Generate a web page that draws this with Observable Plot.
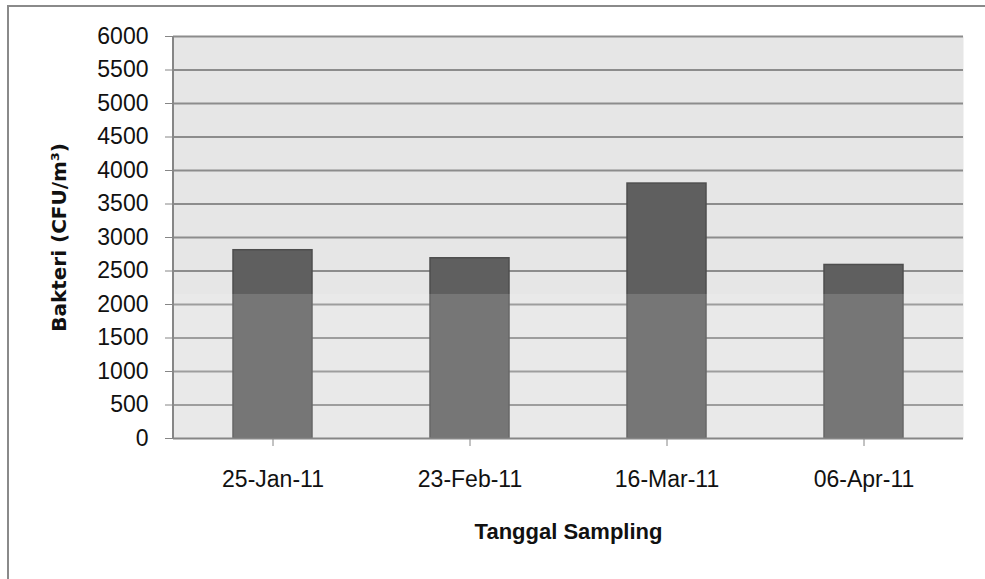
<!DOCTYPE html>
<html>
<head>
<meta charset="utf-8">
<script src="https://cdn.jsdelivr.net/npm/d3@7"></script>
<script src="https://cdn.jsdelivr.net/npm/@observablehq/plot@0.6"></script>
<style>
  html, body { margin: 0; padding: 0; background: #ffffff; width: 985px; height: 579px; overflow: hidden; }
  #wrap { position: relative; width: 985px; height: 579px; }
  #border { position: absolute; left: 7px; top: 5px; width: 2000px; height: 2000px;
            border-left: 2px solid #8a8a8a; border-top: 2px solid #8a8a8a; box-sizing: border-box; }
  #chart { position: absolute; left: 0; top: 0; }
  #chart [aria-label="y-axis tick"], #chart [aria-label="x-axis tick"] { stroke: #868686; }
  #chart text { fill: #111; }
</style>
</head>
<body>
<div id="wrap">
  <div id="border"></div>
  <div id="chart"></div>
</div>
<script>
// Data
const dates = ["25-Jan-11", "23-Feb-11", "16-Mar-11", "06-Apr-11"];
const bacteria = [2810, 2690, 3805, 2590];
const yTicks = [0, 500, 1000, 1500, 2000, 2500, 3000, 3500, 4000, 4500, 5000, 5500, 6000];
const yTitle = "Bakteri (CFU/m³)";
const xTitle = "Tanggal Sampling";
const overlayLevel = [2150]; // lighter watermark band below this level

const data = dates.map((d, i) => ({date: d, value: bacteria[i]}));

const leftAxisLine = (index, scales, values, dims) => {
  const ns = "http://www.w3.org/2000/svg";
  const l = document.createElementNS(ns, "line");
  l.setAttribute("x1", dims.marginLeft);
  l.setAttribute("x2", dims.marginLeft);
  l.setAttribute("y1", dims.marginTop);
  l.setAttribute("y2", dims.height - dims.marginBottom);
  l.setAttribute("stroke", "#868686");
  l.setAttribute("stroke-width", 2);
  return l;
};

const chart = Plot.plot({
  width: 985,
  height: 579,
  marginLeft: 173,
  marginRight: 22,
  marginTop: 36,
  marginBottom: 141,
  style: {fontFamily: "'Liberation Sans', Arial, sans-serif", fontSize: "23px", background: "transparent", overflow: "visible"},
  x: {domain: dates, paddingInner: 0.6, paddingOuter: 0.3, tickSize: 8, tickPadding: 24, label: null},
  y: {domain: [0, 6000], ticks: yTicks, tickSize: 8, tickPadding: 17, tickFormat: d => String(d), label: null},
  marks: [
    Plot.frame({fill: "#e6e6e6", stroke: null}),
    Plot.ruleY(yTicks.filter(t => t > 0), {stroke: "#8c8c8c", strokeWidth: 2}),
    Plot.barY(data, {x: "date", y: "value", fill: "#5f5f5f", stroke: "#4e4e4e", strokeWidth: 1.5}),
    Plot.rect(overlayLevel, {y1: 0, y2: d => d, fill: "#ffffff", fillOpacity: 0.15}),
    Plot.ruleY([0], {stroke: "#868686", strokeWidth: 2}),
    leftAxisLine,
    Plot.text([yTitle], {frameAnchor: "left", dx: -114, rotate: -90, text: d => d,
      textAnchor: "middle", lineAnchor: "middle",
      fontFamily: "'DejaVu Sans', Verdana, sans-serif", fontWeight: "bold", fontSize: 20, fill: "#111"}),
    Plot.text([xTitle], {frameAnchor: "bottom", dy: 93, text: d => d, lineAnchor: "middle",
      fontFamily: "'Liberation Sans', Arial, sans-serif", fontWeight: "bold", fontSize: 22, letterSpacing: "-0.6px", fill: "#111"})
  ]
});
document.getElementById("chart").appendChild(chart);
</script>
</body>
</html>
